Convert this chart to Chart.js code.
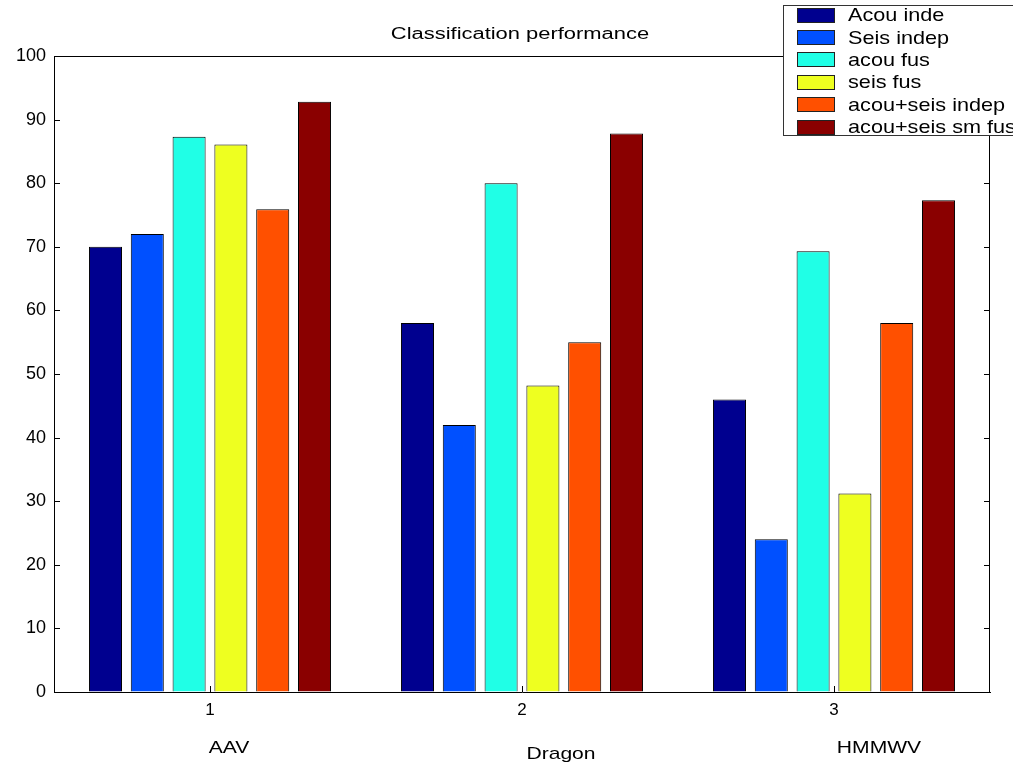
<!DOCTYPE html>
<html>
<head>
<meta charset="utf-8">
<script src="https://cdn.jsdelivr.net/npm/chart.js@4/dist/chart.umd.min.js"></script>
<style>
  html,body{margin:0;padding:0;background:#fff;overflow:hidden;}
  #wrap{position:relative;width:1013px;height:765px;}
  #legend{position:absolute;left:783px;top:5px;width:260px;height:131px;border:1px solid #333;background:#fff;
    font-family:"Liberation Sans",Arial,sans-serif;font-size:19px;color:#000;box-sizing:border-box;}
  #legend .row{display:flex;align-items:center;height:22.4px;}
  #legend .row:first-child{margin-top:-2px;}
  #legend .sw{width:38px;height:15px;margin-left:13px;margin-right:13px;border:1px solid #222;box-sizing:border-box;flex:none;}
  #legend .tx{display:inline-block;transform:scaleX(1.14);transform-origin:left center;white-space:nowrap;}
</style>
</head>
<body>
<div id="wrap">
  <canvas id="c" width="1013" height="765"></canvas>
  <div id="legend"></div>
</div>
<script>
const tickLabels = ['1','2','3'];
const categories = ['AAV','Dragon','HMMWV'];
const seriesNames = ['Acou inde','Seis indep','acou fus','seis fus','acou+seis indep','acou+seis sm fus'];
const acouInde   = [70.0, 58.0, 46.0];
const seisIndep  = [72.0, 42.0, 24.0];
const acouFus    = [87.3, 80.0, 69.3];
const seisFus    = [86.1, 48.2, 31.2];
const bothIndep  = [75.9, 55.0, 58.0];
const bothSmFus  = [92.8, 87.8, 77.3];
const yTicks = [0,10,20,30,40,50,60,70,80,90,100];

const colors = ['#00008f','#0050ff','#20ffe6','#eeff20','#ff5000','#8a0000'];
const values = [acouInde, seisIndep, acouFus, seisFus, bothIndep, bothSmFus];
const FONT = '"Liberation Sans", Arial, sans-serif';

// where the hand-placed group names sit relative to each tick
const nameDx = [19, 39, 45];
const nameY = [748, 754, 748];

const framePlugin = {
  id:'frame',
  afterDraw(chart){
    const {ctx, chartArea:a, scales:{x,y}} = chart;
    ctx.save();
    ctx.strokeStyle = '#000';
    ctx.lineWidth = 1;
    ctx.beginPath();
    ctx.moveTo(a.left, a.top+0.5); ctx.lineTo(a.right, a.top+0.5);
    ctx.moveTo(a.right-0.5, a.top); ctx.lineTo(a.right-0.5, a.bottom);
    yTicks.forEach(v=>{
      const py = Math.round(y.getPixelForValue(v))+0.5;
      ctx.moveTo(a.left, py); ctx.lineTo(a.left+6, py);
      ctx.moveTo(a.right, py); ctx.lineTo(a.right-6, py);
    });
    tickLabels.forEach((t,i)=>{
      const px = Math.round(x.getPixelForValue(i))+0.5;
      ctx.moveTo(px, a.bottom); ctx.lineTo(px, a.bottom-6);
    });
    ctx.stroke();
    ctx.fillStyle = '#000';
    ctx.textAlign = 'center';
    ctx.textBaseline = 'middle';
    // title, stretched like the original
    ctx.save();
    ctx.translate((a.left+a.right)/2 - 2, 35);
    ctx.scale(1.37, 1);
    ctx.font = '16px ' + FONT;
    ctx.fillText('Classification performance', 0, 0);
    ctx.restore();
    // group names under the numeric ticks
    categories.forEach((n,i)=>{
      ctx.save();
      ctx.translate(x.getPixelForValue(i) + nameDx[i], nameY[i]);
      ctx.scale(1.24, 1);
      ctx.font = '17px ' + FONT;
      ctx.fillText(n, 0, 0);
      ctx.restore();
    });
    ctx.restore();
  }
};

const chart = new Chart(document.getElementById('c'), {
  type:'bar',
  data:{
    labels: tickLabels,
    datasets: seriesNames.map((name,i)=>({
      label:name, data:values[i], backgroundColor:colors[i],
      borderColor:'#000', borderWidth:1,
      categoryPercentage:0.804, barPercentage:0.79
    }))
  },
  options:{
    responsive:false, animation:false,
    layout:{padding:{top:56, right:23, left:0, bottom:0}},
    plugins:{legend:{display:false}, title:{display:false}, tooltip:{enabled:false}},
    scales:{
      x:{
        grid:{display:true, drawOnChartArea:false, tickLength:0, color:'#000'},
        border:{color:'#000'},
        ticks:{font:{family:FONT, size:17}, color:'#000', padding:8},
        afterFit(s){ s.height = 73; }
      },
      y:{
        min:0, max:100,
        grid:{display:true, drawOnChartArea:false, tickLength:0, color:'#000'},
        border:{color:'#000'},
        ticks:{stepSize:10, font:{family:FONT, size:18}, color:'#000', padding:8},
        afterFit(s){ s.width = 54; }
      }
    }
  },
  plugins:[framePlugin]
});

const legendEl = document.getElementById('legend');
chart.data.datasets.forEach(ds=>{
  const row = document.createElement('div');
  row.className = 'row';
  const sw = document.createElement('span');
  sw.className = 'sw';
  sw.style.background = ds.backgroundColor;
  const tx = document.createElement('span');
  tx.className = 'tx';
  tx.textContent = ds.label;
  row.appendChild(sw); row.appendChild(tx);
  legendEl.appendChild(row);
});
</script>
</body>
</html>
